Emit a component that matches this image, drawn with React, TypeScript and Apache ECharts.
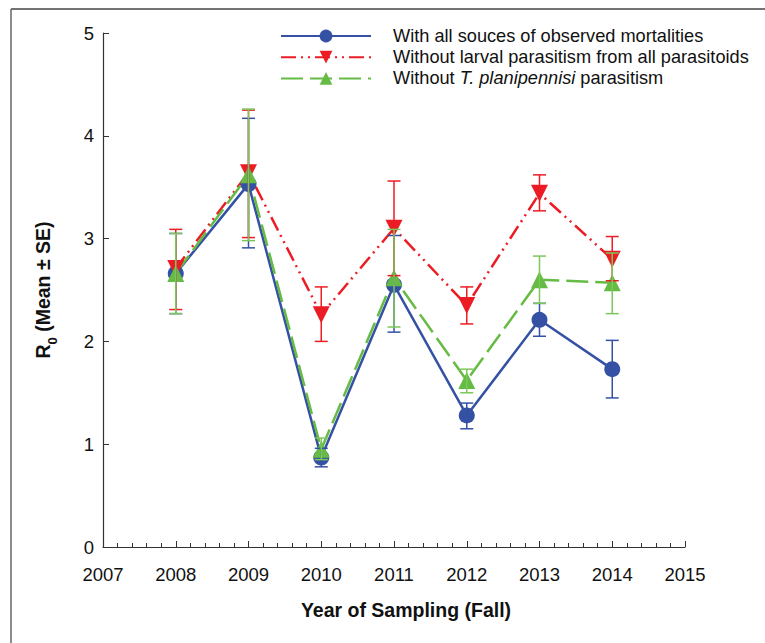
import React, { useEffect, useRef } from "react";
import * as echarts from "echarts";

const years = [2008, 2009, 2010, 2011, 2012, 2013, 2014];

const allMean = [2.66, 3.53, 0.87, 2.55, 1.28, 2.21, 1.73];
const allLow = [2.27, 2.91, 0.78, 2.09, 1.15, 2.05, 1.45];
const allHigh = [3.05, 4.17, 0.96, 3.03, 1.4, 2.37, 2.01];

const larvalMean = [2.71, 3.64, 2.26, 3.1, 2.35, 3.44, 2.8];
const larvalLow = [2.31, 3.01, 2.0, 2.64, 2.17, 3.27, 2.59];
const larvalHigh = [3.09, 4.25, 2.53, 3.56, 2.53, 3.62, 3.02];

const tpMean = [2.66, 3.62, 0.95, 2.62, 1.62, 2.6, 2.57];
const tpLow = [2.27, 2.98, 0.85, 2.14, 1.5, 2.37, 2.27];
const tpHigh = [3.05, 4.26, 1.06, 3.09, 1.73, 2.83, 2.86];

const seriesNames = [
  "With all souces of observed mortalities",
  "Without larval parasitism from all parasitoids",
  "Without T. planipennisi parasitism",
];

const BLUE = "#3551a4";
const RED = "#ec1c24";
const GREEN = "#66bb44";
const FONT = "Liberation Sans, Arial, sans-serif";

function errSeries(name: string, low: number[], high: number[], color: string) {
  return {
    type: "custom",
    name: name + " SE",
    data: years.map((y, i) => [y, low[i], high[i]]),
    encode: { x: 0, y: [1, 2] },
    renderItem: (params: any, api: any) => {
      const x = api.value(0);
      const lo = api.coord([x, api.value(1)]);
      const hi = api.coord([x, api.value(2)]);
      const hw = 6.5;
      const style = { stroke: color, lineWidth: 1.5 };
      return {
        type: "group",
        children: [
          { type: "line", shape: { x1: lo[0], y1: lo[1], x2: hi[0], y2: hi[1] }, style },
          { type: "line", shape: { x1: lo[0] - hw, y1: lo[1], x2: lo[0] + hw, y2: lo[1] }, style },
          { type: "line", shape: { x1: hi[0] - hw, y1: hi[1], x2: hi[0] + hw, y2: hi[1] }, style },
        ],
      };
    },
    z: 3,
  };
}

export default function App() {
  const ref = useRef<HTMLDivElement>(null);
  useEffect(() => {
    if (!ref.current) return;
    const chart = echarts.init(ref.current, undefined, { renderer: "svg" });
    const option: any = {
      animation: false,
      backgroundColor: "#ffffff",
      textStyle: { fontFamily: FONT },
      grid: { left: 103, right: 80, top: 33, bottom: 96, containLabel: false },
      legend: {
        data: seriesNames,
        orient: "vertical",
        left: 280,
        top: 27,
        padding: 0,
        itemWidth: 90,
        itemHeight: 16,
        itemGap: 3.2,
        selectedMode: false,
        formatter: (n: string) =>
          n === seriesNames[2]
            ? "{n|Without }{i|T. planipennisi}{n| parasitism}"
            : "{n|" + n + "}",
        textStyle: {
          fontFamily: FONT,
          fontSize: 18.2,
          color: "#111",
          padding: [0, 0, 0, 17],
          rich: {
            n: { fontFamily: FONT, fontSize: 18.2, color: "#111" },
            i: { fontFamily: FONT, fontSize: 18.2, color: "#111", fontStyle: "italic" },
          },
        },
      },
      xAxis: {
        type: "value",
        min: 2007,
        max: 2015,
        interval: 1,
        name: "Year of Sampling (Fall)",
        nameLocation: "middle",
        nameGap: 53,
        nameTextStyle: {
          fontFamily: FONT,
          fontSize: 19.5,
          fontWeight: "bold",
          color: "#111",
          padding: [0, 0, 0, 24],
        },
        axisLine: { show: true, onZero: false, lineStyle: { color: "#333", width: 1.2 } },
        axisTick: { show: true, inside: true, length: 6, lineStyle: { color: "#333" } },
        minorTick: { show: true, splitNumber: 5, length: 4, lineStyle: { color: "#333" } },
        axisLabel: {
          fontFamily: FONT,
          fontSize: 18.5,
          color: "#111",
          margin: 18,
          formatter: (v: number) => String(v),
        },
        splitLine: { show: false },
      },
      yAxis: {
        type: "value",
        min: 0,
        max: 5,
        interval: 1,
        name: "{b|R}{s|0}{b| (Mean ± SE)}",
        nameLocation: "middle",
        nameRotate: 90,
        nameGap: 50,
        nameTextStyle: {
          fontFamily: FONT,
          fontSize: 19.5,
          fontWeight: "bold",
          color: "#111",
          rich: {
            b: { fontFamily: FONT, fontSize: 19.5, fontWeight: "bold", color: "#111", lineHeight: 24, verticalAlign: "bottom" },
            s: { fontFamily: FONT, fontSize: 13, fontWeight: "bold", color: "#111", lineHeight: 24, verticalAlign: "bottom", padding: [0, 0, -6, 0] },
          },
        },
        axisLine: { show: true, lineStyle: { color: "#333", width: 1.2 } },
        axisTick: { show: true, inside: true, length: 6, lineStyle: { color: "#333" } },
        axisLabel: { fontFamily: FONT, fontSize: 18.5, color: "#111", margin: 9 },
        splitLine: { show: false },
      },
      graphic: [
        { type: "line", shape: { x1: 11, y1: 9, x2: 765, y2: 9 }, style: { stroke: "#444", lineWidth: 1.5 } },
        { type: "line", shape: { x1: 11, y1: 9, x2: 11, y2: 643 }, style: { stroke: "#666", lineWidth: 1.5 } },
      ],
      series: [
        {
          type: "line",
          name: seriesNames[0],
          data: years.map((y, i) => [y, allMean[i]]),
          symbol: "circle",
          symbolSize: 16,
          itemStyle: { color: BLUE },
          lineStyle: { color: BLUE, width: 2.5, type: "solid" },
          z: 2,
        },
        {
          type: "line",
          name: seriesNames[1],
          data: years.map((y, i) => [y, larvalMean[i]]),
          symbol: "triangle",
          symbolRotate: 180,
          symbolSize: 17,
          itemStyle: { color: RED },
          lineStyle: { color: RED, width: 2.5, type: [15, 5, 2, 5, 2, 5] },
          z: 2,
        },
        {
          type: "line",
          name: seriesNames[2],
          data: years.map((y, i) => [y, tpMean[i]]),
          symbol: "triangle",
          symbolSize: 17,
          itemStyle: { color: GREEN },
          lineStyle: { color: GREEN, width: 2.5, type: [22, 7] },
          z: 2,
        },
        errSeries(seriesNames[0], allLow, allHigh, BLUE),
        errSeries(seriesNames[1], larvalLow, larvalHigh, RED),
        errSeries(seriesNames[2], tpLow, tpHigh, "#7cc75a"),
      ],
    };
    chart.setOption(option);
    return () => chart.dispose();
  }, []);
  return (
    <div
      ref={ref}
      style={{ position: "fixed", left: 0, top: 0, width: 765, height: 643, background: "#fff" }}
    />
  );
}
